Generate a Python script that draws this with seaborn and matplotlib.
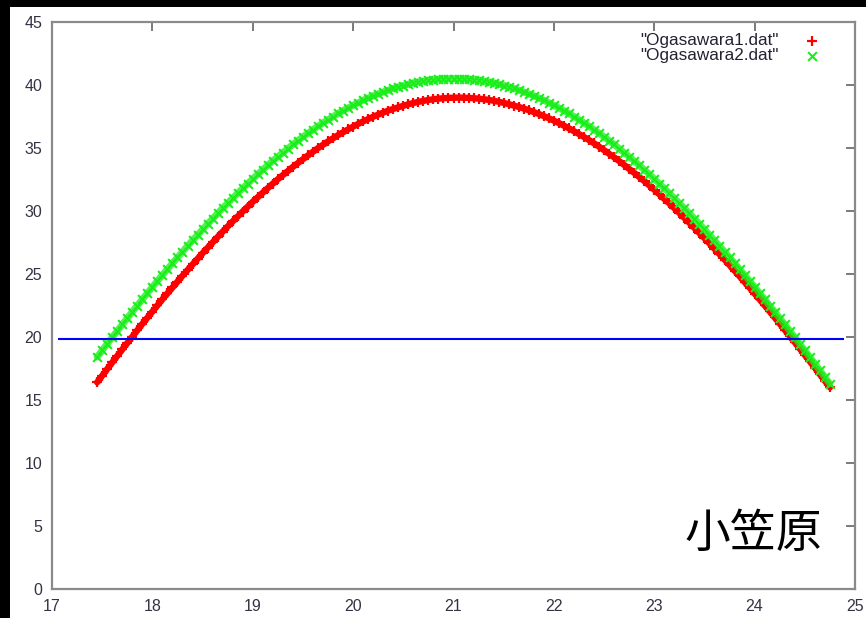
import matplotlib
matplotlib.use("Agg")
import matplotlib.pyplot as plt
from matplotlib.patches import Rectangle
import pandas as pd
import seaborn as sns

# Sample times (hours) shared by both data files
hours = [
    17.45, 17.50, 17.55, 17.60, 17.65, 17.70, 17.75, 17.80, 17.85, 17.90,
    17.95, 18.00, 18.05, 18.10, 18.15, 18.20, 18.25, 18.30, 18.35, 18.40,
    18.45, 18.50, 18.55, 18.60, 18.65, 18.70, 18.75, 18.80, 18.85, 18.90,
    18.95, 19.00, 19.05, 19.10, 19.15, 19.20, 19.25, 19.30, 19.35, 19.40,
    19.45, 19.50, 19.55, 19.60, 19.65, 19.70, 19.75, 19.80, 19.85, 19.90,
    19.95, 20.00, 20.05, 20.10, 20.15, 20.20, 20.25, 20.30, 20.35, 20.40,
    20.45, 20.50, 20.55, 20.60, 20.65, 20.70, 20.75, 20.80, 20.85, 20.90,
    20.95, 21.00, 21.05, 21.10, 21.15, 21.20, 21.25, 21.30, 21.35, 21.40,
    21.45, 21.50, 21.55, 21.60, 21.65, 21.70, 21.75, 21.80, 21.85, 21.90,
    21.95, 22.00, 22.05, 22.10, 22.15, 22.20, 22.25, 22.30, 22.35, 22.40,
    22.45, 22.50, 22.55, 22.60, 22.65, 22.70, 22.75, 22.80, 22.85, 22.90,
    22.95, 23.00, 23.05, 23.10, 23.15, 23.20, 23.25, 23.30, 23.35, 23.40,
    23.45, 23.50, 23.55, 23.60, 23.65, 23.70, 23.75, 23.80, 23.85, 23.90,
    23.95, 24.00, 24.05, 24.10, 24.15, 24.20, 24.25, 24.30, 24.35, 24.40,
    24.45, 24.50, 24.55, 24.60, 24.65, 24.70, 24.75,
]

# Ogasawara1.dat
ogasawara1 = [
    16.40, 16.93, 17.46, 17.98, 18.50, 19.01, 19.52, 20.03, 20.54, 21.04,
    21.53, 22.02, 22.51, 22.99, 23.46, 23.93, 24.40, 24.86, 25.31, 25.76,
    26.21, 26.65, 27.08, 27.51, 27.94, 28.36, 28.77, 29.17, 29.57, 29.96,
    30.35, 30.73, 31.10, 31.46, 31.82, 32.17, 32.52, 32.85, 33.18, 33.50,
    33.81, 34.11, 34.41, 34.70, 34.99, 35.26, 35.52, 35.77, 36.02, 36.25,
    36.48, 36.70, 36.91, 37.11, 37.30, 37.48, 37.65, 37.81, 37.97, 38.10,
    38.23, 38.35, 38.47, 38.57, 38.66, 38.74, 38.81, 38.87, 38.92, 38.95,
    38.98, 38.99, 39.00,
    38.99, 38.98, 38.95, 38.92, 38.87, 38.82, 38.75, 38.67, 38.58, 38.48,
    38.37, 38.26, 38.13, 38.00, 37.85, 37.70, 37.53, 37.36, 37.17, 36.98,
    36.77, 36.56, 36.34, 36.11, 35.87, 35.63, 35.37, 35.11, 34.83, 34.55,
    34.26, 33.97, 33.66, 33.35, 33.03, 32.71, 32.38, 32.04, 31.69, 31.33,
    30.97, 30.60, 30.23, 29.85, 29.46, 29.06, 28.66, 28.26, 27.85, 27.43,
    27.01, 26.58, 26.15, 25.71, 25.27, 24.82, 24.37, 23.91, 23.45, 22.98,
    22.51, 22.03, 21.55, 21.06, 20.57, 20.08, 19.58, 19.08, 18.58, 18.07,
    17.56, 17.04, 16.52, 16.00,
]

# Ogasawara2.dat
ogasawara2 = [
    18.41, 18.94, 19.46, 19.97, 20.49, 21.00, 21.50, 22.00, 22.50, 22.99,
    23.48, 23.97, 24.45, 24.92, 25.39, 25.85, 26.31, 26.77, 27.22, 27.66,
    28.10, 28.54, 28.97, 29.39, 29.81, 30.22, 30.62, 31.02, 31.41, 31.80,
    32.18, 32.55, 32.92, 33.28, 33.63, 33.98, 34.31, 34.64, 34.96, 35.28,
    35.59, 35.89, 36.17, 36.45, 36.73, 37.00, 37.25, 37.50, 37.74, 37.97,
    38.18, 38.39, 38.59, 38.79, 38.97, 39.15, 39.30, 39.45, 39.59, 39.73,
    39.85, 39.96, 40.07, 40.16, 40.24, 40.30, 40.37, 40.42, 40.45, 40.48,
    40.49, 40.50,
    40.49, 40.48, 40.45, 40.42, 40.37, 40.30, 40.24, 40.16, 40.07, 39.96,
    39.85, 39.73, 39.59, 39.45, 39.30, 39.15, 38.97, 38.79, 38.59, 38.39,
    38.18, 37.97, 37.74, 37.50, 37.25, 37.00, 36.73, 36.45, 36.17, 35.89,
    35.59, 35.28, 34.96, 34.64, 34.31, 33.98, 33.63, 33.28, 32.92, 32.55,
    32.18, 31.80, 31.41, 31.02, 30.62, 30.22, 29.81, 29.39, 28.97, 28.54,
    28.10, 27.66, 27.22, 26.77, 26.31, 25.85, 25.39, 24.92, 24.45, 23.97,
    23.48, 22.99, 22.50, 22.00, 21.50, 21.00, 20.49, 19.97, 19.46, 18.94,
    18.41, 17.88, 17.35, 16.82, 16.28,
]

series_labels = ['"Ogasawara1.dat"', '"Ogasawara2.dat"']
reference_level = 19.85
reference_span = [17.06, 24.89]
x_ticks = [17, 18, 19, 20, 21, 22, 23, 24, 25]
y_ticks = [0, 5, 10, 15, 20, 25, 30, 35, 40, 45]
place_name = "小笠原"

sns.set_theme(style="white")
plt.rcParams["font.family"] = ["Liberation Sans", "DejaVu Sans"]

df1 = pd.DataFrame({"hour": hours, "value": ogasawara1})
df2 = pd.DataFrame({"hour": hours, "value": ogasawara2})

RED = "#ff0000"
GREEN = "#1aee1a"

fig = plt.figure(figsize=(8.66, 6.18), dpi=100, facecolor="black")
fig.add_artist(Rectangle((10 / 866, 0), 1, 611 / 618, transform=fig.transFigure,
                         facecolor="white", edgecolor="none", zorder=0))
ax = fig.add_axes([52 / 866, 29 / 618, 803 / 866, 567 / 618])
ax.set_facecolor("white")

# Dense sampling renders as a solid band of markers: a thick trace underneath
# fills the gaps between the individual point symbols.
sns.lineplot(data=df1, x="hour", y="value", color=RED, linewidth=4.6,
             sort=False, legend=False, ax=ax, zorder=2,
             solid_capstyle="round")
sns.scatterplot(data=df1, x="hour", y="value", marker="+", s=55,
                color=RED, linewidth=1.6, ax=ax, label=series_labels[0],
                zorder=3)
sns.lineplot(data=df2, x="hour", y="value", color=GREEN, linewidth=5.0,
             sort=False, legend=False, ax=ax, zorder=4, alpha=0.75,
             solid_capstyle="round")
sns.scatterplot(data=df2, x="hour", y="value", marker="x", s=40,
                color=GREEN, linewidth=1.5, ax=ax, label=series_labels[1],
                zorder=5)

ax.hlines(reference_level, reference_span[0], reference_span[1],
          color="#0000ff", linewidth=1.5, zorder=6)

ax.set_xlim(17, 25)
ax.set_ylim(0, 45)
ax.set_xticks(x_ticks)
ax.set_yticks(y_ticks)
ax.set_xlabel("")
ax.set_ylabel("")

for sp in ax.spines.values():
    sp.set_color("#8a8a8a")
    sp.set_linewidth(1.6)

ax.tick_params(axis="both", direction="in", length=6.5, width=1.3,
               color="#707070", top=True, right=True, labelsize=11.5,
               labelcolor="#333344")
ax.tick_params(axis="x", pad=7)
ax.tick_params(axis="y", pad=7)

leg = ax.legend(loc="upper right", bbox_to_anchor=(0.962, 0.989),
                borderaxespad=0, frameon=False, markerfirst=False,
                fontsize=12.3, handlelength=0.9, handletextpad=1.5,
                labelspacing=0.0, borderpad=0.3)
for t in leg.get_texts():
    t.set_color("#222233")

ax.text(0.873, 0.097, place_name, transform=ax.transAxes, ha="center",
        va="center", fontsize=33, color="black",
        family=["Noto Sans CJK JP", "DejaVu Sans"])

fig.savefig("out.png", dpi=100, facecolor=fig.get_facecolor())
